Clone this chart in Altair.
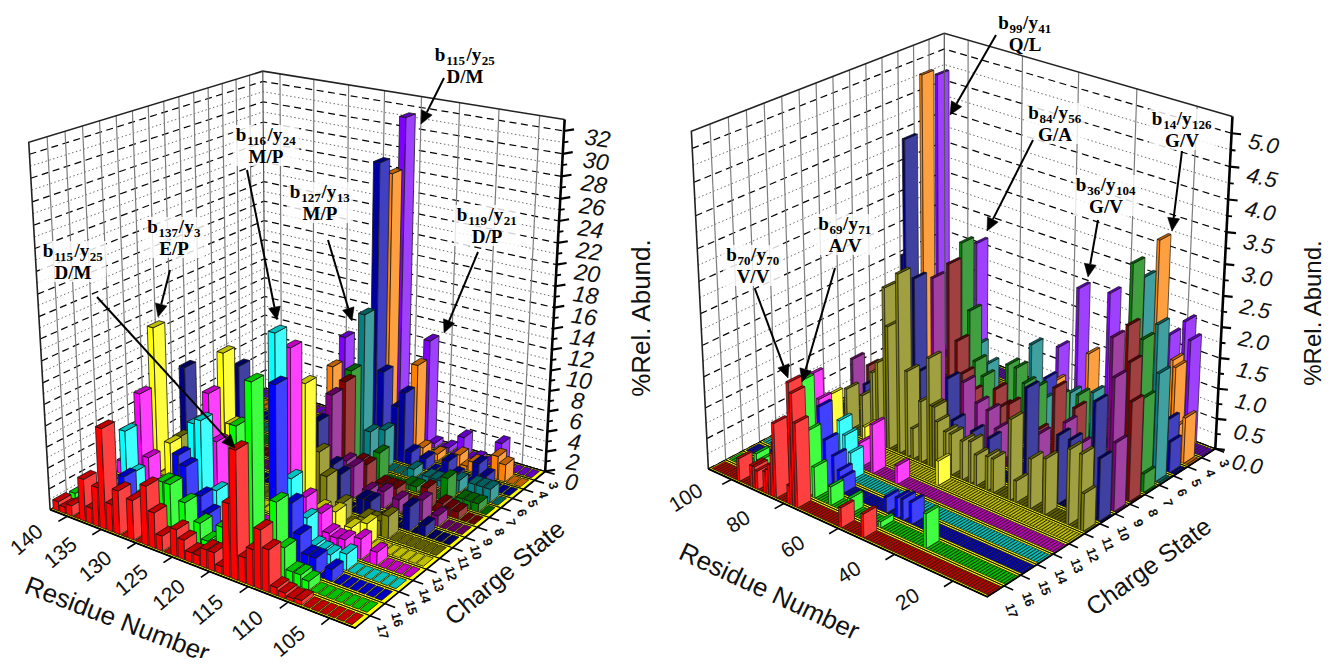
import numpy as np
import altair as alt

# ---------- data: (residue, %rel. abundance) per charge state ----------
CHARGES = [17, 16, 15, 14, 13, 12, 11, 10, 9, 8, 7, 6, 5, 4, 3]

left_17 = [(142,.9),(141,.6),(140,1.0),(138,4.0),(137,1.5),(136,3.7),(135,9.4),(134,2.6),(133,4.1),(131,3.7),(129,5.5),(128,3.3),(127,1.4),(125,2.5),(124,1.8),(123,.9),(122,.9),(121,1.7),(120,1.7),(119,.7),(118,6.6),(117,11.5),(116,2.3),(115,3.3),(114,5.3),(113,3.8),(112,.7),(111,.5),(110,.3),(109,.4)]
left_16 = [(142,.8),(129,5.0),(128,5.0),(126,3.8),(124,2.4),(123,1.0),(122,.9),(121,2.8),(119,12.3),(117,16.5),(114,6.8),(113,3.0),(112,1.1),(111,1.1),(110,.8)]
left_15 = [(137,2.7),(129,6.6),(128,5.8),(126,3.5),(125,2.1),(116,15.7),(114,5.8),(113,3.2),(112,1.6),(111,1.6),(109,1.1)]
left_14 = [(139,5.8),(138,2.0),(129,8.7),(128,9.2),(126,3.1),(118,19.0),(116,6.6),(114,3.5),(113,1.2),(112,1.0),(111,.9),(109,1.5)]
left_13 = [(142,1.3),(139,8.6),(138,2.6),(129,10.7),(128,6.4),(118,17.0),(116,4.0),(114,3.0),(113,1.4),(112,1.2),(111,1.3),(109,1.9),(107,1.2)]
left_12 = [(139,14.2),(137,3.4),(129,13.7),(128,7.2),(118,13.1),(116,2.0),(114,2.2),(112,1.2),(110,2.1)]
left_11 = [(138,2.9),(137,1.6),(118,6.0),(117,3.9),(115,1.8),(112,1.2),(111,1.2),(109,2.1),(110,1.4)]
left_10 = [(139,8.9),(131,10.6),(120,7.6),(118,3.9),(117,3.2),(114,1.6),(113,1.6),(108,2.3),(106,1.0)]
left_9 = [(138,3.6),(120,9.3),(118,3.4),(117,3.1),(115,1.2),(113,1.6),(111,1.3),(108,2.0),(106,1.0)]
left_8 = [(120,9.8),(118,2.5),(117,2.4),(115,1.0),(114,1.0),(113,1.0),(109,2.0),(107,1.0),(106,.8),(105,.7)]
left_7 = [(121,9.9),(117,2.7),(113,.5),(112,.5),(108,2.3),(106,.8),(105,.8),(104,.8)]
left_6 = [(121,14.6),(120,3.3),(118,3.9),(114,.9),(112,.6),(111,.6),(110,.6),(108,1.2),(106,1.3),(105,1.3),(104,1.3)]
left_5 = [(121,28.2),(120,8.5),(118,5.4),(117,7.0),(116,1.3),(114,1.1),(111,1.5),(107,2.2),(106,1.2),(110,.4)]
left_4 = [(129,6.5),(121,26.7),(117,9.0),(116,.9),(114,.7),(111,1.3),(109,1.0),(106,2.3),(105,1.7),(110,.4)]
left_3 = [(129,8.8),(121,31.4),(117,10.7),(112,2.0),(107,2.5),(116,.5),(114,.5),(110,.3)]

right_17 = [(98,.37),(93,.35),(92,.35),(91,.3),(88,.35),(87,.4),(86,.5),(85,.7),(84,1.2),(79,.3),(78,1.95),(77,1.8),(76,1.35),(60,.32),(52,.38)]
right_16 = [(98,.3),(97,.2),(80,1.8),(78,1.05),(76,.5),(70,.3),(63,.25),(52,.1),(36,.55)]
right_15 = [(98,.33),(80,1.25),(78,.75),(75,.55),(73,.35),(72,.25),(56,.25),(52,.32),(50,.34),(47,.35)]
right_14 = [(79,.9),(77,.7),(75,.45)]
right_13 = [(96,1.2),(93,.85),(78,.4),(73,.8),(64,.3)]
right_12 = [(95,.75),(82,.45),(55,.4)]
right_11 = [(95,.7),(89,.7),(85,1.15),(83,1.35),(80,2.6),(79,2.0),(75,2.9),(72,1.4),(70,.5),(67,1.0),(64,1.75),(63,1.0),(62,1.0),(61,.78),(58,.67),(56,.67),(52,.63),(49,.68),(47,.5),(43,.55),(41,.55),(35,1.3),(33,.35),(28,.8),(23,.9),(15,1.2),(11,1.2),(10,.6)]
right_10 = [(94,.65),(79,3.0),(78,4.8),(75,2.7),(73,1.25),(63,1.3),(61,.65),(54,.6),(48,.6),(35,1.65),(24,1.1),(20,1.1),(12,1.85),(10,1.0)]
right_9 = [(105,.75),(74,2.6),(63,1.1),(58,.85),(54,.8),(51,.55),(36,.75),(27,1.1),(22,.85),(12,2.7),(11,2.1),(10,1.1)]
right_8 = [(105,.5),(74,2.7),(71,1.5),(69,1.0),(66,.75),(57,.95),(55,.7),(52,.8),(42,.55),(36,1.35),(29,1.15),(12,2.75),(11,2.2),(10,1.6)]
right_7 = [(75,2.9),(72,1.85),(70,1.05),(67,.85),(58,1.2),(55,1.2),(52,1.0),(48,1.0),(40,1.0),(33,1.15),(16,3.5),(12,2.4),(11,1.5),(10,.3)]
right_6 = [(75,1.1),(71,.85),(55,1.45),(51,.6),(41,.9),(33,1.05),(17,3.15),(12,2.5),(11,1.75)]
right_5 = [(55,.75),(12,.85),(11,.5)]
right_4 = [(107,4.8),(57,.53),(45,1.2),(22,3.4),(16,1.6),(15,1.5),(13,.6),(11,.75)]
right_3 = [(107,4.7),(92,2.15),(61,.9),(54,2.0),(43,2.1),(22,1.77),(17,2.07),(15,1.8)]

LEFT_ROWS = [left_17,left_16,left_15,left_14,left_13,left_12,left_11,left_10,left_9,left_8,left_7,left_6,left_5,left_4,left_3]
RIGHT_ROWS = [right_17,right_16,right_15,right_14,right_13,right_12,right_11,right_10,right_9,right_8,right_7,right_6,right_5,right_4,right_3]

LEFT_Z_TICKS = list(range(0, 33, 2))
RIGHT_Z_TICKS = [0.0,0.5,1.0,1.5,2.0,2.5,3.0,3.5,4.0,4.5,5.0]
LEFT_RES_TICKS = [140,135,130,125,120,115,110,105]
RIGHT_RES_TICKS = [100,80,60,40,20]

# colour per charge state: front face, side face, top face
PALETTE = [
 ("#ff0000","#ff4040","#c00000"),("#00ff00","#40ff40","#00c000"),("#0000ff","#4040ff","#0000c0"),
 ("#00ffff","#40ffff","#00c0c0"),("#ff00ff","#ff40ff","#c000c0"),("#ffff00","#ffff40","#c0c000"),
 ("#808000","#a0a040","#606000"),("#000080","#4040a0","#000060"),("#800080","#a040a0","#600060"),
 ("#800000","#a04040","#600000"),("#008000","#40a040","#006000"),("#008080","#40a0a0","#006060"),
 ("#0000a0","#4040c0","#000080"),("#ff8000","#ffa040","#c06000"),("#8000ff","#a040ff","#6000c0"),
]

# ---------- perspective camera calibrated on the box corners ----------
def camera(pairs):
    A = []
    for (X, Y, Z), (x, y) in pairs:
        x, y = x/1000, y/1000
        A.append([X,Y,Z,1,0,0,0,0,-x*X,-x*Y,-x*Z,-x])
        A.append([0,0,0,0,X,Y,Z,1,-y*X,-y*Y,-y*Z,-y])
    _, _, vt = np.linalg.svd(np.array(A, float))
    return vt[-1].reshape(3, 4)

class Panel:
    def __init__(self, corners, res_hi, res_lo, zmax):
        self.M = camera(corners)
        self.hi, self.lo, self.zmax = res_hi, res_lo, zmax
    def uv(self, u, v, w):
        h = self.M @ np.array([u, v, w, 1.0])
        return (round(float(h[0]/h[2]*1000), 2), round(float(h[1]/h[2]*1000), 2))
    def p(self, res, v, z):
        return self.uv((self.hi-res)/(self.hi-self.lo), v, z/self.zmax)
    def ures(self, res):
        return (self.hi-res)/(self.hi-self.lo)

LEFT = Panel([((0,0,0),(50,509)),((1,0,0),(356,628)),((1,1,0),(545,472)),((0,1,0),(265,388)),
              ((0,0,1),(28,143)),((0,1,1),(264,71)),((1,1,1),(564,119))], 142.6, 102.0, 33.0)
RIGHT = Panel([((0,0,0),(708,468)),((1,0,0),(988,597)),((1,1,0),(1215,449)),((0,1,0),(945,345)),
               ((0,0,1),(691,132)),((0,1,1),(945,33)),((1,1,1),(1232,116))], 109.0, 8.6, 5.25)

def s(pt):
    return [pt[0]-8, pt[1]-8]

def poly(pts, fill, stroke, sw):
    ring = [s(q) for q in pts]
    ring.append(ring[0])
    return {"type":"Feature","geometry":{"type":"Polygon","coordinates":[ring]},
            "properties":{"fill":fill,"stroke":stroke,"sw":sw}}

def line(pts, color="#000000", sw=1.0):
    return {"type":"Feature","geometry":{"type":"LineString","coordinates":[s(q) for q in pts]},
            "properties":{"stroke":color,"sw":sw}}

polys, solid, dashed, dotted, axes_lines, texts_sans, texts_ital, texts_tick = [], [], [], [], [], [], [], []

def build(panel, rows, res_first, res_last, z_ticks, z_minor, res_ticks, wu, wv, edge, tick_style):
    P = panel.uv
    # walls
    for i in range(1, 15):
        solid.append(line([P(0,i/15,0), P(0,i/15,1)], "#7d7d7d", 1.2))
    for r in res_ticks:
        u = panel.ures(r)
        solid.append(line([P(u,1,0), P(u,1,1)], "#7d7d7d", 1.2))
    for z in z_ticks:
        w = z/panel.zmax
        dashed.append(line([P(0,0,w),P(0,1,w),P(1,1,w)], "#000000", 1.2))
    for z in z_minor:
        w = z/panel.zmax
        dotted.append(line([P(0,0,w),P(0,1,w),P(1,1,w)], "#6e6e6e", 1.0))
    # floor
    polys.append(poly([P(0,0,0),P(1,0,0),P(1,1,0),P(0,1,0)], "#ffff00", "#000000", 1.0))
    for i in range(0, 16):
        polys.append(poly([P(0,i/15,0),P(1,i/15,0)], "none", "#000000", 0.8))
    # bars, painter order
    for row in range(14, -1, -1):
        vals = dict(rows[row])
        front, side, top = PALETTE[row]
        v0, v1 = (row+(1-wv)/2)/15, (row+(1+wv)/2)/15
        for res in range(res_first, res_last-1, -1):
            val = vals.get(res, 0)
            u0 = panel.ures(res+wu/2)
            u1 = panel.ures(res-wu/2)
            w = val/panel.zmax
            if val > 0:
                polys.append(poly([P(u0,v0,0),P(u1,v0,0),P(u1,v0,w),P(u0,v0,w)], front, "#1c1c1c", edge))
                polys.append(poly([P(u1,v0,0),P(u1,v1,0),P(u1,v1,w),P(u1,v0,w)], side, "#1c1c1c", edge))
            polys.append(poly([P(u0,v0,w),P(u1,v0,w),P(u1,v1,w),P(u0,v1,w)], top, "#111111", edge))
    # box outline and axes
    axes_lines.append(line([P(0,0,0),P(0,0,1),P(0,1,1),P(1,1,1)], "#222222", 1.6))
    axes_lines.append(line([P(0,1,0),P(0,1,1)], "#555555", 1.2))
    axes_lines.append(line([P(0,0,0),P(1,0,0),P(1,1,0)], "#000000", 1.8))
    axes_lines.append(line([P(1,1,0),P(1,1,1)], "#000000", 2.6))
    # residue ticks
    for r in res_ticks:
        u = panel.ures(r)
        axes_lines.append(line([P(u,0,0),P(u,-0.035,0)], "#000000", 1.6))
    # charge ticks
    for i in range(1, 16):
        axes_lines.append(line([P(1,i/15,0),P(1.03,i/15,0)], "#000000", 1.6))
    # z ticks
    dx, dy = tick_style
    for z in z_ticks:
        a = P(1,1,z/panel.zmax)
        axes_lines.append(line([a,(a[0]+dx,a[1]+dy)], "#000000", 2.2))
    for z in z_minor:
        a = P(1,1,z/panel.zmax)
        axes_lines.append(line([a,(a[0]+dx/2,a[1]+dy/2)], "#000000", 1.8))

build(LEFT, LEFT_ROWS, 142, 103, LEFT_Z_TICKS, list(range(1, 33, 2)), LEFT_RES_TICKS, 0.86, 0.76, 0.8, (10,-1.7))
build(RIGHT, RIGHT_ROWS, 108, 9, RIGHT_Z_TICKS, [0.25+0.5*i for i in range(10)], RIGHT_RES_TICKS, 0.92, 0.76, 0.7, (9.5,1.0))

def put(store, x, y, text, fs, ang):
    store.append({"x":x-8,"y":y-8,"t":text,"fs":fs,"a":ang % 360})

# tick labels
for r in LEFT_RES_TICKS:
    a = LEFT.p(r, 0, 0)
    put(texts_sans, a[0]-40, a[1]+24, str(r), 21, -40)
for r in RIGHT_RES_TICKS:
    a = RIGHT.p(r, 0, 0)
    put(texts_sans, a[0]-45, a[1]+19, str(r), 21, -32)
for i, c in enumerate(CHARGES):
    v = (i+0.5)/15
    a = LEFT.uv(1, v, 0)
    put(texts_tick, a[0]+20-7*v, a[1]+10, str(c), 13, 75)
    a = RIGHT.uv(1, v, 0)
    put(texts_tick, a[0]+15.5, a[1]+20-10*v, str(c), 13, 70)
for z in LEFT_Z_TICKS:
    a = LEFT.uv(1, 1, z/33.0)
    put(texts_ital, a[0]+26+7.6*z/33, a[1]+11.5-3.5*z/33, str(z), 23, 8)
for z in RIGHT_Z_TICKS:
    a = RIGHT.uv(1, 1, z/5.25)
    put(texts_ital, a[0]+32, a[1]+16-z, f"{z:.1f}", 22, 12)

# axis titles
put(texts_sans, 642, 318, "%Rel. Abund.", 26, -90)
put(texts_sans, 1314, 313, "%Rel. Abund.", 24, -90)
put(texts_sans, 117, 620, "Residue Number", 26, 21)
put(texts_sans, 769, 592, "Residue Number", 26, 25)
put(texts_sans, 505, 573, "Charge State", 25, -40)
put(texts_sans, 1149, 567, "Charge State", 25, -36)

# annotations: (centre x, centre y, b index, y index, residue pair, arrow start, arrow tip)
ANNOTATIONS = [
 (465,55,"115","25","D/M",(444,78),(421,124)),
 (266,135,"116","24","M/P",(247,170),(277,320)),
 (320,192,"127","13","M/P",(328,240),(352,321)),
 (487,215,"119","21","D/P",(478,252),(444,333)),
 (174,227,"137","3","E/P",(170,270),(158,317)),
 (73,251,"115","25","D/M",(97,297),(235,448)),
 (1025,23,"99","41","Q/L",(996,35),(950,115)),
 (1055,113,"84","56","G/A",(1033,140),(987,231)),
 (1106,185,"36","104","G/V",(1098,220),(1088,277)),
 (1182,119,"14","126","G/V",(1182,151),(1172,231)),
 (753,255,"70","70","V/V",(755,289),(788,378)),
 (845,224,"69","71","A/V",(835,268),(802,382)),
]
MAIN_FS, SUB_FS = 19, 13
texts_anno, texts_pair, boxes, arrows, heads = [], [], [], [], []
for cx, cy, bn, yn, pair, a, b in ANNOTATIONS:
    w_b, w_sy = 0.6*MAIN_FS, 0.8*MAIN_FS
    total = w_b + w_sy + 0.52*SUB_FS*(len(bn)+len(yn))
    x = cx-total/2
    for frag, fs, dy, adv in [("b",MAIN_FS,6,w_b),(bn,SUB_FS,10,0.52*SUB_FS*len(bn)),("/y",MAIN_FS,6,w_sy),(yn,SUB_FS,10,0.52*SUB_FS*len(yn))]:
        texts_anno.append({"x":x-8,"y":cy+dy-8,"t":frag,"fs":fs})
        x += adv
    texts_pair.append({"x":cx-8,"y":cy+28-8,"t":pair})
    boxes.append(poly([(cx-total/2-3,cy-10),(cx+total/2+3,cy-10),(cx+total/2+3,cy+31),(cx-total/2-3,cy+31)], "#ffffff", "none", 0))
    d = np.array(b, float)-np.array(a, float)
    d = d/np.linalg.norm(d)
    n = np.array([-d[1], d[0]])
    base = np.array(b, float)-13*d
    arrows.append(line([a, tuple(base)], "#000000", 2.0))
    heads.append(poly([tuple(b), tuple(base+6*n), tuple(base-6*n)], "#000000", "#000000", 0.5))

def geo(features):
    return alt.Chart(alt.Data(values=features))

proj = dict(type="identity", scale=1, translate=[0, 0])
sw = alt.StrokeWidth("properties.sw:Q", scale=None)
st = alt.Stroke("properties.stroke:N", scale=None)

def lines_layer(features, dash=None):
    kw = {"filled": False}
    if dash:
        kw["strokeDash"] = dash
    return geo(features).mark_geoshape(**kw).encode(stroke=st, strokeWidth=sw).project(**proj)

def fills_layer(features):
    return geo(features).mark_geoshape().encode(
        fill=alt.Fill("properties.fill:N", scale=None), stroke=st, strokeWidth=sw).project(**proj)

X = alt.X("x:Q", scale=None, axis=None)
Y = alt.Y("y:Q", scale=None, axis=None)

def text_layer(rows, font, **kw):
    return alt.Chart(alt.Data(values=rows)).mark_text(font=font, align="center", baseline="middle", color="#111111", **kw).encode(
        x=X, y=Y, text="t:N", size=alt.Size("fs:Q", scale=None), angle=alt.Angle("a:Q", scale=None))

def anno_layer(rows):
    return alt.Chart(alt.Data(values=rows)).mark_text(font="Liberation Serif", fontWeight="bold", align="left", baseline="alphabetic", color="#000000").encode(
        x=X, y=Y, text="t:N", size=alt.Size("fs:Q", scale=None))

def pair_layer(rows):
    return alt.Chart(alt.Data(values=rows)).mark_text(font="Liberation Serif", fontWeight="bold", fontSize=19, align="center", baseline="alphabetic", color="#000000").encode(
        x=X, y=Y, text="t:N")

chart = alt.layer(
    lines_layer(dotted, [1.5, 2.5]),
    lines_layer(dashed, [7, 4.5]),
    lines_layer(solid),
    geo(boxes).mark_geoshape(opacity=0.82, strokeWidth=0).encode(fill=alt.Fill("properties.fill:N", scale=None)).project(**proj),
    fills_layer(polys),
    lines_layer(axes_lines),
    lines_layer(arrows),
    fills_layer(heads),
    text_layer(texts_sans, "Liberation Sans"),
    text_layer(texts_ital, "Liberation Sans", fontStyle="italic"),
    text_layer(texts_tick, "Liberation Sans", fontWeight="bold"),
    anno_layer(texts_anno),
    pair_layer(texts_pair),
).properties(width=1320, height=650, padding=0, autosize=alt.AutoSizeParams(type="none")).configure_view(stroke=None)

chart.save("out.html", embed_options={"renderer": "svg", "actions": False})
